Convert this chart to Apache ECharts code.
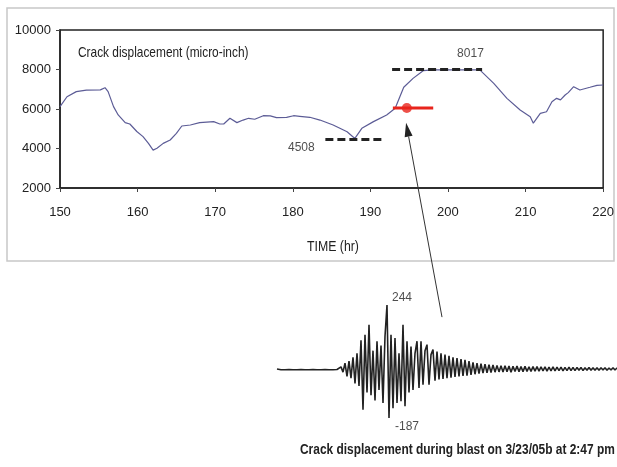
<!DOCTYPE html>
<html><head><meta charset="utf-8">
<script src="https://cdn.jsdelivr.net/npm/echarts@6/dist/echarts.min.js"></script>
<style>html,body{margin:0;padding:0;background:#fff}#c{width:617px;height:467px}</style>
</head><body><div id="c"></div>
<script>
// ---- data ----
const timeHr = [150,150.9,152.1,153.4,155.2,155.8,156.2,156.9,157.5,158.4,159.0,159.9,160.7,161.4,162.0,162.5,163.3,164.2,165.0,165.7,166.8,168.0,169.8,170.6,171.1,171.9,172.8,173.6,174.3,175.1,176.2,177.1,177.9,179.2,180.1,180.9,182.2,183.5,185.2,187.0,188.0,188.9,190.4,192.1,193.2,193.8,194.3,195.5,196.8,198.1,204.1,205.9,207.6,209.3,210.6,211.0,211.9,212.7,213.4,214.0,214.5,215.1,215.5,216.2,217.0,218.3,219.2,220];
const crackVal = [6120,6620,6880,6960,6970,7080,6880,6120,5700,5310,5240,4860,4600,4260,3920,4010,4260,4430,4770,5140,5190,5310,5360,5240,5240,5530,5310,5440,5530,5480,5660,5650,5560,5580,5660,5630,5580,5440,5190,4850,4510,5020,5360,5700,6035,6620,7100,7550,7940,7980,7980,7300,6540,5950,5610,5280,5780,5860,6370,6540,6460,6710,6830,7130,6960,7100,7200,7215];
const xTicks = [150,160,170,180,190,200,210,220];
const yTicks = [2000,4000,6000,8000,10000];
const minLine = {hr:[184.2,191.6], value:4450, label:'4508', labelAt:[181.1,4025]};
const maxLine = {hr:[192.8,204.4], value:8000, label:'8017', labelAt:[202.9,8785]};
const blastLine = {hr:[192.9,198.1], value:6050, dotHr:194.7};
const waveVal = [0,3,-3,2,-3,3,-2,3,-3,2,-3,3,-2,3,-3,2,-3,3,-2,3,-3,2,-3,3,-2,3,-3,2,-3,3,-2,3,
  8,-12,22,-28,30,-35,45,-55,60,-65,110,-155,131,-90,169,-100,70,-120,106,-80,90,-130,125,244,-187,131,-150,118,-130,60,-123,169,-142,106,-90,86,-80,60,106,-72,106,-60,70,93,-60,55,74,-45,67,-40,60,-38,55,-35,50,-33,45,-30,42,-28,38,-26,35,-25,30,-22,25,-20,22,-18,20,-16,18,-15,16,-14,15,-12,13,-11,12,
  -11,12,-10,11,-12,10,-9,11,-10,9,-10,10,-9,8,-9,9,-8,9,-8,8,-7,8,-8,7,-7,8,-7,7,-6,7,-7,6,-6,7,-6,6,-6,6,-5,6,-6,5,-5,6,-5,5,-5,5,-5,5,-4,5,-5,4,-4,5,-4,4,-4,4];
const waveLabels = [{text:'244', at:[62.5,271]},{text:'-187', at:[65,-221]}];
const arrowTip = [194.6, 5300];   // top chart (hr, micro-inch)
const arrowTail = [82.5, 198];    // waveform (sample, value)
const titleText = 'Crack displacement (micro-inch)';
const xName = 'TIME (hr)';
const caption = 'Crack displacement during blast on 3/23/05b at 2:47 pm';

const FF = "'Liberation Sans',Arial,sans-serif";
const chart = echarts.init(document.getElementById('c'));
const option = {
  backgroundColor:'#fff',
  animation:false,
  grid:[
    {left:60, top:30, width:544, height:158, show:true, borderColor:'#222', borderWidth:1.5},
    {left:277, top:290.4, width:340, height:157.2}
  ],
  xAxis:[
    {gridIndex:0, type:'value', min:150, max:220, interval:10,
     axisLine:{lineStyle:{color:'#222',width:1.5}}, axisTick:{length:4,lineStyle:{color:'#444'}},
     splitLine:{show:false},
     axisLabel:{color:'#222', fontFamily:FF, fontSize:13, margin:18, formatter:v=>String(v)}},
    {gridIndex:1, type:'value', min:0, max:170, show:false}
  ],
  yAxis:[
    {gridIndex:0, type:'value', min:2000, max:10000, interval:2000,
     axisLine:{show:true,lineStyle:{color:'#222',width:1.5}}, axisTick:{show:true,length:4,lineStyle:{color:'#444'}},
     splitLine:{show:false},
     axisLabel:{color:'#222', fontFamily:FF, fontSize:13, margin:9, formatter:v=>String(v)}},
    {gridIndex:1, type:'value', min:-300, max:300, show:false}
  ],
  series:[
    {type:'line', xAxisIndex:0, yAxisIndex:0, data:timeHr.map((t,i)=>[t,crackVal[i]]),
     showSymbol:false, lineStyle:{color:'#5c5c96', width:1.2}, z:3},
    {type:'line', xAxisIndex:0, yAxisIndex:0, data:minLine.hr.map(h=>[h,minLine.value]),
     showSymbol:false, lineStyle:{color:'#222', width:3, type:[8,4]}, z:4},
    {type:'line', xAxisIndex:0, yAxisIndex:0, data:maxLine.hr.map(h=>[h,maxLine.value]),
     showSymbol:false, lineStyle:{color:'#222', width:3, type:[8,4]}, z:4},
    {type:'line', xAxisIndex:0, yAxisIndex:0, data:blastLine.hr.map(h=>[h,blastLine.value]),
     showSymbol:false, lineStyle:{color:'#e8241c', width:3}, z:5},
    {type:'scatter', xAxisIndex:0, yAxisIndex:0, data:[[blastLine.dotHr,blastLine.value]],
     symbolSize:10, itemStyle:{color:'#e8241c'}, z:6},
    {type:'scatter', xAxisIndex:0, yAxisIndex:0, symbolSize:0,
     data:[minLine, maxLine].map(m=>({value:m.labelAt, name:m.label})),
     label:{show:true, position:'inside', formatter:p=>p.name, color:'#222', fontFamily:FF, fontSize:12}},
    {type:'line', xAxisIndex:1, yAxisIndex:1, data:waveVal.map((v,i)=>[i,v]),
     showSymbol:false, lineStyle:{color:'#222', width:1.6}, clip:true},
    {type:'scatter', xAxisIndex:1, yAxisIndex:1, symbolSize:0,
     data:waveLabels.map(w=>({value:w.at, name:w.text})),
     label:{show:true, position:'inside', formatter:p=>p.name, color:'#222', fontFamily:FF, fontSize:12}}
  ]
};
chart.setOption(option);

const tip = chart.convertToPixel({gridIndex:0}, arrowTip);
const tail = chart.convertToPixel({gridIndex:1}, arrowTail);
const dx = tip[0]-tail[0], dy = tip[1]-tail[1], len = Math.hypot(dx,dy);
const ux = dx/len, uy = dy/len, hl = 14, hw = 4;
const bx = tip[0]-ux*hl, by = tip[1]-uy*hl;
chart.setOption({graphic:[
  {type:'rect', shape:{x:7,y:8,width:607,height:253}, style:{fill:'none', stroke:'#c8c8c8', lineWidth:1.5}, z:-1},
  {type:'text', x:78, y:45, scaleX:0.82, style:{text:titleText, fill:'#222', font:'14.5px '+FF}},
  {type:'text', x:307, y:239, scaleX:0.82, style:{text:xName, fill:'#222', font:'15px '+FF}},
  {type:'text', x:300, y:442, scaleX:0.795, style:{text:caption, fill:'#222', font:'bold 15px '+FF}},
  {type:'line', shape:{x1:tail[0],y1:tail[1],x2:bx,y2:by}, style:{stroke:'#333', lineWidth:1}, z:10},
  {type:'polygon', shape:{points:[[tip[0],tip[1]],[bx-uy*hw,by+ux*hw],[bx+uy*hw,by-ux*hw]]}, style:{fill:'#222'}, z:10}
]});
</script></body></html>
